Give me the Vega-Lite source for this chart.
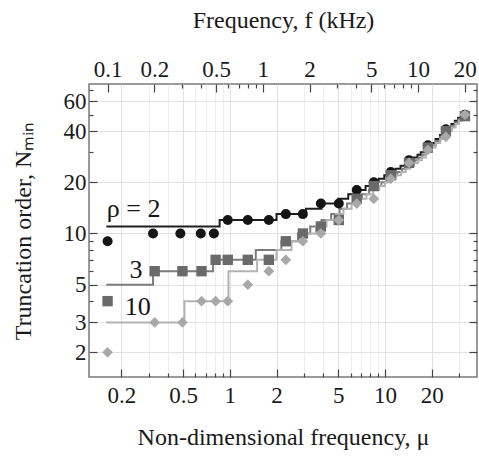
{
  "$schema": "https://vega.github.io/schema/vega-lite/v6.json",
  "width": 388,
  "height": 293,
  "autosize": {"type": "none"},
  "padding": {"left": 89, "top": 84, "right": 2, "bottom": 83},
  "background": "white",
  "config": {
    "view": {"stroke": "#7a7a7a", "strokeWidth": 1.5},
    "font": "Liberation Serif",
    "axis": {"domain": false, "labelFont": "Liberation Serif", "titleFont": "Liberation Serif", "labelColor": "#1a1a1a", "titleColor": "#1a1a1a", "titleFontWeight": "normal", "tickColor": "#444", "tickWidth": 1.2, "gridColor": "#e2e2e2", "gridWidth": 1}
  },
  "datasets": {
    "steps": [
      {"rho": "2", "mu": 0.16, "N": 11}, {"rho": "2", "mu": 0.86, "N": 12}, {"rho": "2", "mu": 2.0, "N": 13}, {"rho": "2", "mu": 3.1, "N": 14},
      {"rho": "2", "mu": 3.9, "N": 15}, {"rho": "2", "mu": 5.0, "N": 16}, {"rho": "2", "mu": 5.8, "N": 17}, {"rho": "2", "mu": 6.6, "N": 18},
      {"rho": "2", "mu": 7.5, "N": 19}, {"rho": "2", "mu": 8.3, "N": 20}, {"rho": "2", "mu": 9.1, "N": 21}, {"rho": "2", "mu": 9.9, "N": 22},
      {"rho": "2", "mu": 10.8, "N": 23}, {"rho": "2", "mu": 11.7, "N": 24}, {"rho": "2", "mu": 12.6, "N": 25}, {"rho": "2", "mu": 13.5, "N": 26},
      {"rho": "2", "mu": 14.4, "N": 27}, {"rho": "2", "mu": 15.3, "N": 28}, {"rho": "2", "mu": 16.2, "N": 29}, {"rho": "2", "mu": 17.0, "N": 30},
      {"rho": "2", "mu": 18.3, "N": 32}, {"rho": "2", "mu": 19.8, "N": 34}, {"rho": "2", "mu": 21.2, "N": 36}, {"rho": "2", "mu": 22.6, "N": 38},
      {"rho": "2", "mu": 24.0, "N": 40}, {"rho": "2", "mu": 25.4, "N": 42}, {"rho": "2", "mu": 26.8, "N": 44}, {"rho": "2", "mu": 28.2, "N": 46},
      {"rho": "2", "mu": 29.6, "N": 48}, {"rho": "2", "mu": 31.0, "N": 49}, {"rho": "2", "mu": 33.0, "N": 51}, {"rho": "2", "mu": 34.0, "N": 51},
      {"rho": "3", "mu": 0.16, "N": 5}, {"rho": "3", "mu": 0.32, "N": 6}, {"rho": "3", "mu": 0.78, "N": 7}, {"rho": "3", "mu": 1.47, "N": 8},
      {"rho": "3", "mu": 2.15, "N": 9}, {"rho": "3", "mu": 2.75, "N": 10}, {"rho": "3", "mu": 3.3, "N": 11}, {"rho": "3", "mu": 3.9, "N": 12},
      {"rho": "3", "mu": 4.5, "N": 13}, {"rho": "3", "mu": 5.1, "N": 14}, {"rho": "3", "mu": 5.7, "N": 15}, {"rho": "3", "mu": 6.4, "N": 16},
      {"rho": "3", "mu": 7.1, "N": 17}, {"rho": "3", "mu": 7.9, "N": 18}, {"rho": "3", "mu": 8.7, "N": 19}, {"rho": "3", "mu": 9.5, "N": 20},
      {"rho": "3", "mu": 10.3, "N": 21}, {"rho": "3", "mu": 11.1, "N": 22}, {"rho": "3", "mu": 12.0, "N": 23}, {"rho": "3", "mu": 12.9, "N": 24},
      {"rho": "3", "mu": 13.8, "N": 25}, {"rho": "3", "mu": 14.7, "N": 26}, {"rho": "3", "mu": 15.6, "N": 27}, {"rho": "3", "mu": 16.5, "N": 28},
      {"rho": "3", "mu": 17.4, "N": 29}, {"rho": "3", "mu": 18.4, "N": 31}, {"rho": "3", "mu": 19.9, "N": 33}, {"rho": "3", "mu": 21.3, "N": 35},
      {"rho": "3", "mu": 22.7, "N": 37}, {"rho": "3", "mu": 24.1, "N": 39}, {"rho": "3", "mu": 25.5, "N": 41}, {"rho": "3", "mu": 26.9, "N": 43},
      {"rho": "3", "mu": 28.3, "N": 45}, {"rho": "3", "mu": 29.7, "N": 47}, {"rho": "3", "mu": 31.1, "N": 49}, {"rho": "3", "mu": 33.0, "N": 51},
      {"rho": "3", "mu": 34.0, "N": 51},
      {"rho": "10", "mu": 0.16, "N": 3}, {"rho": "10", "mu": 0.51, "N": 4}, {"rho": "10", "mu": 0.98, "N": 6}, {"rho": "10", "mu": 1.5, "N": 7},
      {"rho": "10", "mu": 2.0, "N": 8}, {"rho": "10", "mu": 2.5, "N": 9}, {"rho": "10", "mu": 3.0, "N": 10}, {"rho": "10", "mu": 3.6, "N": 11},
      {"rho": "10", "mu": 4.2, "N": 12}, {"rho": "10", "mu": 4.8, "N": 13}, {"rho": "10", "mu": 5.4, "N": 14}, {"rho": "10", "mu": 6.1, "N": 15},
      {"rho": "10", "mu": 6.8, "N": 16}, {"rho": "10", "mu": 7.6, "N": 17}, {"rho": "10", "mu": 8.4, "N": 18}, {"rho": "10", "mu": 9.2, "N": 19},
      {"rho": "10", "mu": 10.0, "N": 20}, {"rho": "10", "mu": 10.9, "N": 21}, {"rho": "10", "mu": 11.8, "N": 22}, {"rho": "10", "mu": 12.7, "N": 23},
      {"rho": "10", "mu": 13.6, "N": 24}, {"rho": "10", "mu": 14.5, "N": 25}, {"rho": "10", "mu": 15.4, "N": 26}, {"rho": "10", "mu": 16.3, "N": 27},
      {"rho": "10", "mu": 17.3, "N": 28}, {"rho": "10", "mu": 18.3, "N": 30}, {"rho": "10", "mu": 19.8, "N": 32}, {"rho": "10", "mu": 21.2, "N": 34},
      {"rho": "10", "mu": 22.7, "N": 36}, {"rho": "10", "mu": 24.1, "N": 38}, {"rho": "10", "mu": 25.6, "N": 40}, {"rho": "10", "mu": 27.0, "N": 42},
      {"rho": "10", "mu": 28.5, "N": 44}, {"rho": "10", "mu": 30.0, "N": 46}, {"rho": "10", "mu": 31.4, "N": 48}, {"rho": "10", "mu": 32.8, "N": 50},
      {"rho": "10", "mu": 34.0, "N": 50}
    ],
    "pts": [
      {"rho": "2", "mu": 0.163, "N": 9}, {"rho": "2", "mu": 0.32, "N": 10}, {"rho": "2", "mu": 0.48, "N": 10}, {"rho": "2", "mu": 0.65, "N": 10},
      {"rho": "2", "mu": 0.79, "N": 10}, {"rho": "2", "mu": 0.97, "N": 12}, {"rho": "2", "mu": 1.306, "N": 12}, {"rho": "2", "mu": 1.784, "N": 12},
      {"rho": "2", "mu": 2.297, "N": 13}, {"rho": "2", "mu": 2.957, "N": 13}, {"rho": "2", "mu": 3.862, "N": 15}, {"rho": "2", "mu": 5.04, "N": 15},
      {"rho": "2", "mu": 6.58, "N": 18}, {"rho": "2", "mu": 8.47, "N": 20}, {"rho": "2", "mu": 10.9, "N": 23}, {"rho": "2", "mu": 14.3, "N": 27},
      {"rho": "2", "mu": 18.9, "N": 33}, {"rho": "2", "mu": 24.7, "N": 41}, {"rho": "2", "mu": 32.8, "N": 50},
      {"rho": "3", "mu": 0.163, "N": 4}, {"rho": "3", "mu": 0.328, "N": 6}, {"rho": "3", "mu": 0.495, "N": 6}, {"rho": "3", "mu": 0.657, "N": 6},
      {"rho": "3", "mu": 0.81, "N": 7}, {"rho": "3", "mu": 0.97, "N": 7}, {"rho": "3", "mu": 1.306, "N": 7}, {"rho": "3", "mu": 1.784, "N": 7},
      {"rho": "3", "mu": 2.297, "N": 9}, {"rho": "3", "mu": 2.957, "N": 10}, {"rho": "3", "mu": 3.862, "N": 11}, {"rho": "3", "mu": 5.04, "N": 12},
      {"rho": "3", "mu": 6.58, "N": 16}, {"rho": "3", "mu": 8.47, "N": 19}, {"rho": "3", "mu": 10.9, "N": 22}, {"rho": "3", "mu": 14.3, "N": 26},
      {"rho": "3", "mu": 18.9, "N": 32}, {"rho": "3", "mu": 24.7, "N": 40}, {"rho": "3", "mu": 32.8, "N": 49},
      {"rho": "10", "mu": 0.163, "N": 2}, {"rho": "10", "mu": 0.328, "N": 3}, {"rho": "10", "mu": 0.495, "N": 3}, {"rho": "10", "mu": 0.657, "N": 4},
      {"rho": "10", "mu": 0.81, "N": 4}, {"rho": "10", "mu": 0.97, "N": 4}, {"rho": "10", "mu": 1.306, "N": 5}, {"rho": "10", "mu": 1.784, "N": 6},
      {"rho": "10", "mu": 2.297, "N": 7}, {"rho": "10", "mu": 2.957, "N": 9}, {"rho": "10", "mu": 3.862, "N": 10}, {"rho": "10", "mu": 5.04, "N": 12},
      {"rho": "10", "mu": 6.58, "N": 15}, {"rho": "10", "mu": 8.47, "N": 16}, {"rho": "10", "mu": 10.9, "N": 21}, {"rho": "10", "mu": 14.3, "N": 26},
      {"rho": "10", "mu": 18.9, "N": 31}, {"rho": "10", "mu": 24.7, "N": 37}, {"rho": "10", "mu": 32.8, "N": 50}
    ],
    "labels": [
      {"mu": 0.161, "N": 12.5, "label": "ρ = 2"},
      {"mu": 0.226, "N": 5.47, "label": "3"},
      {"mu": 0.21, "N": 3.31, "label": "10"}
    ]
  },
  "resolve": {"axis": {"x": "independent", "y": "independent"}},
  "layer": [
    {
      "data": {"name": "steps"},
      "mark": {"type": "line", "interpolate": "step-after", "strokeWidth": 2, "clip": true},
      "encoding": {
        "x": {
          "field": "mu", "type": "quantitative",
          "scale": {"type": "log", "domain": [0.1237, 39.2], "nice": false},
          "axis": {
            "orient": "bottom",
            "title": "Non-dimensional frequency, μ",
            "titleFontSize": 24, "titlePadding": 14,
            "values": [0.2, 0.3, 0.4, 0.5, 0.6, 0.7, 0.8, 0.9, 1, 2, 3, 4, 5, 6, 7, 8, 9, 10, 20, 30],
            "labelExpr": "indexof([0.2,0.5,1,2,5,10,20], datum.value) >= 0 ? format(datum.value, '~g') : ''",
            "labelFontSize": 23, "labelPadding": 15, "labelFlush": false, "labelOverlap": false,
            "tickSize": {"condition": {"test": "indexof([0.2,0.5,1,2,5,10,20], datum.value) >= 0", "value": -8}, "value": -4},
            "grid": true,
            "gridOpacity": {"condition": {"test": "indexof([0.2,0.5,1,2,5,10,20], datum.value) >= 0", "value": 1}, "value": 0.6}
          }
        },
        "y": {
          "field": "N", "type": "quantitative",
          "scale": {"type": "log", "domain": [1.432, 75.7], "nice": false},
          "axis": {
            "orient": "left",
            "title": "Truncation order, Nₘᵢₙ",
            "titleFontSize": 24, "titlePadding": 28,
            "values": [2, 3, 4, 5, 6, 7, 8, 9, 10, 20, 30, 40, 50, 60, 70],
            "labelExpr": "indexof([2,3,5,10,20,40,60], datum.value) >= 0 ? format(datum.value, '~g') : ''",
            "labelFontSize": 23, "labelPadding": 11, "labelFlush": false, "labelOverlap": false,
            "tickSize": {"condition": {"test": "indexof([2,3,5,10,20,40,60], datum.value) >= 0", "value": -8}, "value": -4},
            "grid": true,
            "gridOpacity": {"condition": {"test": "indexof([2,3,5,10,20,40,60], datum.value) >= 0", "value": 1}, "value": 0}
          }
        },
        "stroke": {"field": "rho", "type": "nominal", "scale": {"domain": ["2", "3", "10"], "range": ["#1e1e1e", "#7c7c7c", "#b2b2b2"]}, "legend": null}
      }
    },
    {
      "data": {"name": "pts"},
      "mark": {"type": "point", "filled": true, "opacity": 1, "clip": true},
      "encoding": {
        "x": {
          "field": "mu", "type": "quantitative",
          "axis": {
            "orient": "top",
            "title": "Frequency, f (kHz)",
            "titleFontSize": 24, "titlePadding": 22,
            "values": [0.1632, 0.3264, 0.4896, 0.6528, 0.816, 0.9792, 1.1424, 1.3056, 1.4688, 1.632, 3.264, 4.896, 6.528, 8.16, 9.792, 11.424, 13.056, 14.688, 16.32, 32.64],
            "labelExpr": "indexof([0.1632,0.3264,0.816,1.632,3.264,8.16,16.32,32.64], datum.value) >= 0 ? format(datum.value/1.632, '.2~g') : ''",
            "labelFontSize": 23, "labelPadding": 11, "labelFlush": false, "labelOverlap": false,
            "tickSize": {"condition": {"test": "indexof([0.1632,0.3264,0.816,1.632,3.264,8.16,16.32,32.64], datum.value) >= 0", "value": -8}, "value": -4},
            "grid": false
          }
        },
        "y": {
          "field": "N", "type": "quantitative",
          "axis": {
            "orient": "right",
            "title": null, "labels": false,
            "values": [2, 3, 4, 5, 6, 7, 8, 9, 10, 20, 30, 40, 50, 60, 70],
            "tickSize": {"condition": {"test": "indexof([2,3,5,10,20,40,60], datum.value) >= 0", "value": -8}, "value": -4},
            "grid": false
          }
        },
        "shape": {"field": "rho", "type": "nominal", "scale": {"domain": ["2", "3", "10"], "range": ["circle", "square", "diamond"]}, "legend": null},
        "size": {"field": "rho", "type": "nominal", "scale": {"domain": ["2", "3", "10"], "range": [100, 115, 165]}, "legend": null},
        "fill": {"field": "rho", "type": "nominal", "scale": {"domain": ["2", "3", "10"], "range": ["#141414", "#6a6a6a", "#a8a8a8"]}, "legend": null}
      }
    },
    {
      "data": {"name": "labels"},
      "mark": {"type": "text", "align": "left", "baseline": "alphabetic", "fontSize": 26, "font": "Liberation Serif", "color": "#151515"},
      "encoding": {
        "x": {"field": "mu", "type": "quantitative", "axis": null},
        "y": {"field": "N", "type": "quantitative", "axis": null},
        "text": {"field": "label", "type": "nominal"}
      }
    }
  ]
}
